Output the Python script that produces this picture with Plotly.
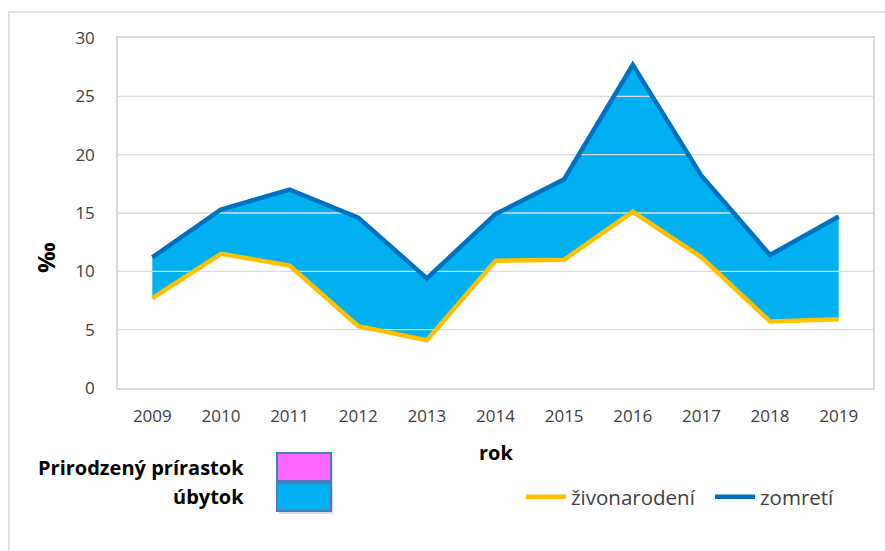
import plotly.graph_objects as go

years = [2009, 2010, 2011, 2012, 2013, 2014, 2015, 2016, 2017, 2018, 2019]
zivonarodeni = [7.7, 11.5, 10.5, 5.3, 4.1, 10.9, 11.0, 15.1, 11.2, 5.7, 5.9]
zomreti = [11.2, 15.3, 17.0, 14.6, 9.4, 14.9, 17.9, 27.7, 18.2, 11.4, 14.7]
y_ticks = [0, 5, 10, 15, 20, 25, 30]

FONT = "Open Sans"
fig = go.Figure()

# fill between (úbytok)
fig.add_trace(go.Scatter(x=years, y=zivonarodeni, mode="lines", line=dict(width=0, color="#00B0F0"),
                         showlegend=False, hoverinfo="skip"))
fig.add_trace(go.Scatter(x=years, y=zomreti, mode="lines", line=dict(width=0, color="#00B0F0"),
                         fill="tonexty", fillcolor="#00B0F0", showlegend=False, hoverinfo="skip"))

# gridlines drawn over the fill
gx, gy = [], []
for t in y_ticks[1:-1]:
    gx += [years[0] - 0.5, years[-1] + 0.5, None]
    gy += [t, t, None]
fig.add_trace(go.Scatter(x=gx, y=gy, mode="lines", line=dict(width=1.3, color="#DCDCDC"),
                         showlegend=False, hoverinfo="skip"))

fig.add_trace(go.Scatter(x=years, y=zivonarodeni, mode="lines", name="živonarodení",
                         line=dict(width=4.5, color="#FFC000")))
fig.add_trace(go.Scatter(x=years, y=zomreti, mode="lines", name="zomretí",
                         line=dict(width=4.5, color="#0070C0")))

L, R, T, B = 118, 12, 38, 163
W, H = 885, 551
pw, ph = W - L - R, H - T - B

def px(x):
    return (x - L) / pw

def py(y):
    return (H - B - y) / ph

shapes = [
    # outer chart border
    dict(type="rect", xref="paper", yref="paper", x0=px(9), x1=px(895), y0=py(570), y1=py(12),
         line=dict(color="#D9D9D9", width=1.5), fillcolor="rgba(0,0,0,0)", layer="below"),
    # legend box shadows
    dict(type="rect", xref="paper", yref="paper", x0=px(279), x1=px(333), y0=py(485), y1=py(456),
         line=dict(width=0), fillcolor="rgba(0,0,0,0.12)"),
    dict(type="rect", xref="paper", yref="paper", x0=px(279), x1=px(333), y0=py(514), y1=py(486),
         line=dict(width=0), fillcolor="rgba(0,0,0,0.15)"),
    dict(type="rect", xref="paper", yref="paper", x0=px(277), x1=px(331), y0=py(481), y1=py(453),
         line=dict(color="#4A7EBB", width=2), fillcolor="#FF66FF"),
    dict(type="rect", xref="paper", yref="paper", x0=px(277), x1=px(331), y0=py(511), y1=py(483),
         line=dict(color="#4A7EBB", width=2), fillcolor="#00B0F0"),
]

annotations = [
    dict(text="<b>Prirodzený prírastok</b>", xref="paper", yref="paper", x=px(246), y=py(467),
         xanchor="right", yanchor="middle", showarrow=False, font=dict(family=FONT, size=20, color="#000000")),
    dict(text="<b>úbytok</b>", xref="paper", yref="paper", x=px(246), y=py(496),
         xanchor="right", yanchor="middle", showarrow=False, font=dict(family=FONT, size=20, color="#000000")),
    dict(text="<b>rok</b>", xref="paper", yref="paper", x=px(496), y=py(452),
         xanchor="center", yanchor="middle", showarrow=False, font=dict(family=FONT, size=20, color="#000000")),
    dict(text="<b>‰</b>", xref="paper", yref="paper", x=px(45), y=py(258), textangle=-90,
         xanchor="center", yanchor="middle", showarrow=False, font=dict(family=FONT, size=24, color="#000000")),
]

fig.update_layout(
    width=W, height=H,
    margin=dict(l=L, r=R, t=T, b=B, autoexpand=False),
    paper_bgcolor="white", plot_bgcolor="white",
    font=dict(family=FONT, size=17, color="#404040"),
    shapes=shapes, annotations=annotations,
    showlegend=True,
    legend=dict(orientation="h", x=px(521), y=py(497), xanchor="left", yanchor="middle",
                font=dict(family=FONT, size=20.5, color="#404040"), bgcolor="rgba(0,0,0,0)",
                traceorder="normal", itemwidth=40, tracegroupgap=0,
                entrywidth=134, entrywidthmode="pixels"),
    xaxis=dict(range=[years[0] - 0.5, years[-1] + 0.5], tickvals=years, ticktext=[str(y) for y in years],
               showgrid=False, zeroline=False, showline=True, mirror=True, linecolor="#D9D9D9", linewidth=1.5,
               ticks="", ticklabelstandoff=12, fixedrange=True),
    yaxis=dict(range=[0, 30], tickvals=y_ticks, showgrid=True, gridcolor="#D9D9D9", gridwidth=1.3,
               zeroline=False, showline=True, mirror=True, linecolor="#D9D9D9", linewidth=1.5,
               ticks="", ticklabelstandoff=18, fixedrange=True),
)

fig.write_html("out.html", config={"displayModeBar": False},
               post_script="document.body.style.margin='0';document.body.style.padding='0';")
